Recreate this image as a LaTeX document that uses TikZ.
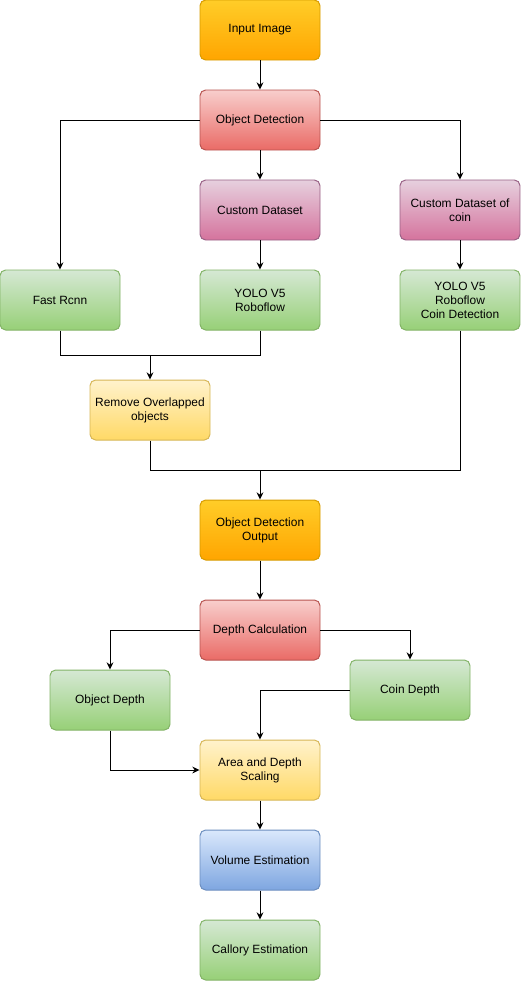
\documentclass[tikz,border=0pt]{standalone}
\usepackage{fontspec}
\setmainfont{Liberation Sans}
\usetikzlibrary{arrows.meta, positioning, calc}
\definecolor{orangefill}{HTML}{FFCD28}
\definecolor{orangeshade}{HTML}{FFA500}
\definecolor{orangeline}{HTML}{D79B00}
\definecolor{redfill}{HTML}{F8CECC}
\definecolor{redshade}{HTML}{EA6B66}
\definecolor{redline}{HTML}{B85450}
\definecolor{purplefill}{HTML}{E6D0DE}
\definecolor{purpleshade}{HTML}{D5739D}
\definecolor{purpleline}{HTML}{996185}
\definecolor{greenfill}{HTML}{D5E8D4}
\definecolor{greenshade}{HTML}{97D077}
\definecolor{greenline}{HTML}{82B366}
\definecolor{yellowfill}{HTML}{FFF2CC}
\definecolor{yellowshade}{HTML}{FFD966}
\definecolor{yellowline}{HTML}{D6B656}
\definecolor{bluefill}{HTML}{DAE8FC}
\definecolor{blueshade}{HTML}{7EA6E0}
\definecolor{blueline}{HTML}{6C8EBF}

\begin{document}
\begin{tikzpicture}[
    box/.style={rectangle, rounded corners=4pt, line width=0.7pt, minimum width=3cm, minimum height=1.5cm, align=center, inner sep=2pt, font=\fontsize{8.5}{10}\selectfont},
    stagebox/.style={box, draw=orangeline, top color=orangefill, bottom color=orangeshade},
    detectbox/.style={box, draw=redline, top color=redfill, bottom color=redshade},
    databox/.style={box, draw=purpleline, top color=purplefill, bottom color=purpleshade},
    modelbox/.style={box, draw=greenline, top color=greenfill, bottom color=greenshade},
    mergebox/.style={box, draw=yellowline, top color=yellowfill, bottom color=yellowshade},
    volbox/.style={box, draw=blueline, top color=bluefill, bottom color=blueshade},
    arrow/.style={-{Stealth[length=1.8mm, width=1.7mm]}, line width=0.7pt, color=black},
    link/.style={line width=0.7pt, color=black}
]
\useasboundingbox (0,0) rectangle (13.025,-24.525);

% Detection stage
\node[stagebox] (input) at (6.5,-0.75) {Input Image};
\node[detectbox] (objdet) at (6.5,-3) {Object Detection};
\node[databox] (dataset) at (6.5,-5.25) {Custom Dataset};
\node[databox] (coinset) at (11.5,-5.25) {Custom Dataset of\\coin};
\node[modelbox] (fastrcnn) at (1.5,-7.5) {Fast Rcnn};
\node[modelbox] (yolo) at (6.5,-7.5) {YOLO V5\\Roboflow};
\node[modelbox] (yolocoin) at (11.5,-7.5) {YOLO V5\\Roboflow\\Coin Detection};
\node[mergebox] (remove) at (3.75,-10.25) {Remove Overlapped\\objects};
\node[stagebox] (output) at (6.5,-13.25) {Object Detection\\Output};

\coordinate (join1) at (3.75,-8.875);
\coordinate (join2) at (6.5,-11.75);

\draw[arrow] (input) -- (objdet);
\draw[arrow] (objdet.west) -| (fastrcnn.north);
\draw[arrow] (objdet) -- (dataset);
\draw[arrow] (objdet.east) -| (coinset.north);
\draw[arrow] (dataset) -- (yolo);
\draw[arrow] (coinset) -- (yolocoin);
\draw[arrow] (fastrcnn.south) |- (join1) -- (remove.north);
\draw[link] (yolo.south) |- (join1);
\draw[arrow] (remove.south) |- (join2) -- (output.north);
\draw[link] (yolocoin.south) |- (join2);

% Depth and volume stage
\node[detectbox] (depthcalc) at (6.5,-15.75) {Depth Calculation};
\node[modelbox] (objdepth) at (2.75,-17.5) {Object Depth};
\node[modelbox] (coindepth) at (10.25,-17.25) {Coin Depth};
\node[mergebox] (area) at (6.5,-19.25) {Area and Depth\\Scaling};
\node[volbox] (volume) at (6.5,-21.5) {Volume Estimation};
\node[modelbox] (callory) at (6.5,-23.75) {Callory Estimation};

\draw[arrow] (output) -- (depthcalc);
\draw[arrow] (depthcalc.west) -| (objdepth.north);
\draw[arrow] (depthcalc.east) -| (coindepth.north);
\draw[arrow] (coindepth.west) -| (area.north);
\draw[arrow] (objdepth.south) |- (area.west);
\draw[arrow] (area) -- (volume);
\draw[arrow] (volume) -- (callory);

\end{tikzpicture}
\end{document}
